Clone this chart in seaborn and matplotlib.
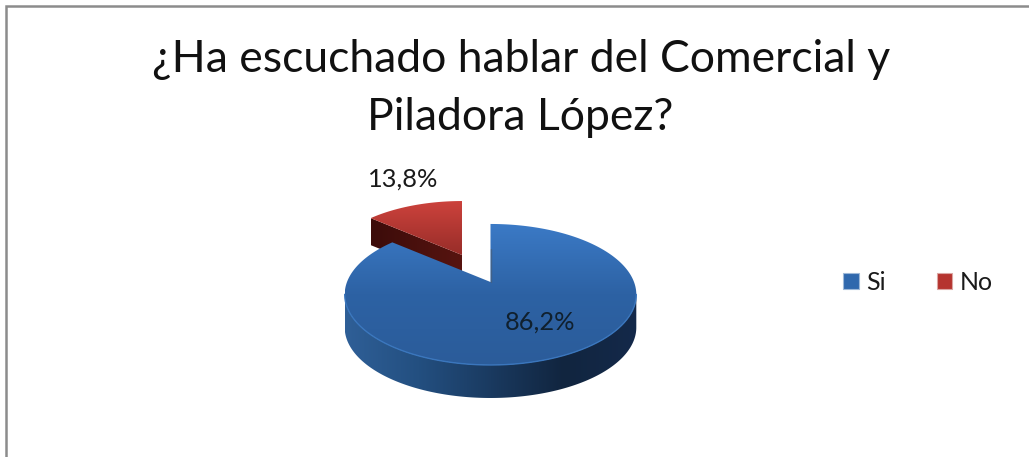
import numpy as np
import matplotlib
matplotlib.use("Agg")
import matplotlib.pyplot as plt
from matplotlib.path import Path
from matplotlib.patches import PathPatch, Patch
import seaborn as sns

# Survey results
title_lines = ["¿Ha escuchado hablar del Comercial y", "Piladora López?"]
categories = ["Si", "No"]
shares = [86.2, 13.8]

sns.set_theme(style="white")
plt.rcParams["font.family"] = ["Lato", "DejaVu Sans"]

W, H = 1029, 457
fig = plt.figure(figsize=(W / 100, H / 100), dpi=100, facecolor="white")
ax = fig.add_axes([0, 0, 1, 1])


def tilted_rim(theta, apex, scale=1.0):
    """Project circle angles (clockwise from 12 o'clock) onto the tilted disc."""
    k, a, b = -0.177, 143.5, 68.3
    sx, sy = np.sin(theta), np.cos(theta)
    d = 1 - k * sy
    return np.column_stack([apex[0] + scale * a * sx / d, apex[1] - scale * b * sy / d])


def gradient_fill(verts, colors, horizontal=False, zorder=2):
    """Fill a closed polygon with a linear gradient blended from the given colours."""
    verts = np.asarray(verts)
    path = Path(np.vstack([verts, verts[0]]), closed=True)
    patch = PathPatch(path, facecolor="none", edgecolor="none", transform=ax.transData)
    ax.add_patch(patch)
    ramp = np.array(sns.blend_palette(colors, 128))
    img = ramp[np.newaxis, :, :] if horizontal else ramp[:, np.newaxis, :]
    x0, y0 = verts.min(axis=0)
    x1, y1 = verts.max(axis=0)
    im = ax.imshow(img, extent=(x0, x1, y1, y0), origin="upper", aspect="auto",
                   zorder=zorder, interpolation="bilinear")
    im.set_clip_path(patch)


fractions = np.array(shares) / sum(shares)
blue_sweep = np.linspace(0, 2 * np.pi * fractions[0], 500)
red_sweep = np.linspace(2 * np.pi * fractions[0], 2 * np.pi, 120)

# Detached slice: wall first, then its top face
red_apex = (462, 255)
red_rim = tilted_rim(red_sweep, red_apex, 0.93)
red_top = np.vstack([[red_apex], red_rim])
red_drop = 27
red_edge = np.vstack([red_rim[0], red_apex])
red_wall = np.vstack([red_edge, red_edge[::-1] + [0, red_drop]])
gradient_fill(red_wall, ["#3c0c0a", "#571410"], horizontal=True, zorder=2)
gradient_fill(red_top, ["#cc423c", "#982d29"], zorder=3)

# Main slice: outer wall, top face, rim highlight
blue_apex = (490.5, 282)
blue_rim = tilted_rim(blue_sweep, blue_apex)
i_right, i_left = np.argmax(blue_rim[:, 0]), np.argmin(blue_rim[:, 0])
front = blue_rim[i_right:i_left + 1]
blue_drop = 33
blue_wall = np.vstack([front, front[::-1] + [0, blue_drop]])
gradient_fill(blue_wall, ["#2f5f97", "#234f80", "#1a3a60", "#11253f", "#14294a"],
              horizontal=True, zorder=4)
blue_top = np.vstack([[blue_apex], blue_rim])
gradient_fill(blue_top, ["#3b7ac6", "#2d62a4", "#2b5c9a"], zorder=5)
ax.plot(front[:, 0], front[:, 1], color="#3a76bd", lw=1.0, zorder=6)
ax.plot([blue_apex[0], blue_rim[0, 0]], [blue_apex[1], blue_rim[0, 1] + 25],
        color="#4a5f78", lw=1.0, alpha=0.7, zorder=6)

# Value labels
def pct(v):
    return f"{v:.1f}".replace(".", ",") + "%"


ax.text(540, 322, pct(shares[0]), ha="center", va="center", fontsize=18.3,
        color="#10202e", zorder=7)
ax.text(403, 179, pct(shares[1]), ha="center", va="center", fontsize=18.3,
        color="#1a1a1a", zorder=7)

# Title
ax.text(521, 60, title_lines[0], ha="center", va="center", fontsize=32, color="#111111")
ax.text(520, 117, title_lines[1], ha="center", va="center", fontsize=32, color="#111111")

# Outer frame: only the top and left edges fall inside the canvas
ax.plot([6, 6, W + 5], [H + 5, 6, 6], color="#8c8c8c", lw=1.8, solid_joinstyle="miter", zorder=8)

# Legend
handles = [Patch(facecolor="#2f68ad", edgecolor="#9db8d8", linewidth=0.8),
           Patch(facecolor="#b5342f", edgecolor="#dba6a3", linewidth=0.8)]
ax.legend(handles, categories, loc="center left", bbox_to_anchor=(843 / W, 1 - 282 / H),
          bbox_transform=fig.transFigure, ncol=2, frameon=False, fontsize=18,
          handlelength=0.62, handleheight=0.62, handletextpad=0.3, columnspacing=2.05,
          borderpad=0, borderaxespad=0, labelcolor="#1a1a1a")

ax.set_xlim(0, W)
ax.set_ylim(H, 0)
ax.axis("off")
fig.savefig("out.png", dpi=100, facecolor="white")
